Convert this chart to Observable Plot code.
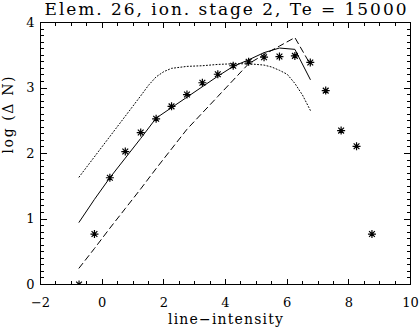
<!DOCTYPE html>
<html>
<head>
<meta charset="utf-8">
<script src="https://cdn.jsdelivr.net/npm/d3@7"></script>
<script src="https://cdn.jsdelivr.net/npm/@observablehq/plot@0.6"></script>
<style>
  html, body { margin: 0; padding: 0; background: #fff; }
  #chart svg { display: block; }
</style>
</head>
<body>
<div id="chart"></div>
<script>
// ---- data ----
const title = "Elem. 26, ion. stage 2, Te = 15000";
const xLabel = "line\u2212intensity";
const yLabel = "log (\u0394 N)";

const xTickLabels = [-2, 0, 2, 4, 6, 8, 10];
const yTickLabels = [0, 1, 2, 3, 4];

// asterisk points
const ptX = [-0.75, -0.25, 0.25, 0.75, 1.25, 1.75, 2.25, 2.75, 3.25, 3.75, 4.25, 4.75, 5.25, 5.75, 6.25, 6.75, 7.25, 7.75, 8.25, 8.75];
const ptY = [0.00, 0.77, 1.63, 2.03, 2.32, 2.53, 2.72, 2.90, 3.08, 3.21, 3.34, 3.40, 3.47, 3.48, 3.49, 3.39, 2.96, 2.35, 2.11, 0.77];

// solid line
const solidX = [-0.75, -0.25, 0.25, 0.75, 1.25, 1.75, 2.25, 2.75, 3.25, 3.75, 4.25, 4.75, 5.25, 5.75, 6.25, 6.75];
const solidY = [0.95, 1.30, 1.63, 1.93, 2.23, 2.54, 2.70, 2.86, 3.02, 3.18, 3.33, 3.43, 3.54, 3.61, 3.59, 3.13];

// dashed line
const dashX = [-0.75, -0.25, 0.25, 0.75, 1.25, 1.75, 2.25, 2.75, 3.25, 3.75, 4.25, 4.75, 5.25, 5.75, 6.25, 6.75];
const dashY = [0.25, 0.55, 0.86, 1.16, 1.46, 1.77, 2.07, 2.37, 2.62, 2.87, 3.12, 3.37, 3.51, 3.64, 3.77, 3.36];

// dotted line
const dotX = [-0.75, -0.25, 0.25, 0.75, 1.25, 1.5, 1.75, 2.0, 2.25, 2.75, 3.25, 3.75, 4.25, 4.75, 5.25, 5.5, 5.75, 6.0, 6.25, 6.5, 6.75];
const dotY = [1.64, 1.95, 2.26, 2.57, 2.88, 3.04, 3.17, 3.25, 3.30, 3.33, 3.34, 3.36, 3.37, 3.37, 3.35, 3.32, 3.27, 3.21, 3.07, 2.89, 2.66];

// ---- build tables ----
const pts = ptX.map((x, i) => ({x, y: ptY[i]}));
const solid = solidX.map((x, i) => ({x, y: solidY[i]}));
const dashed = dashX.map((x, i) => ({x, y: dashY[i]}));
const dotted = dotX.map((x, i) => ({x, y: dotY[i]}));

const xDom = [-2, 10], yDom = [0, 4];
const xMinor = d3.range(0, 25).map(i => -2 + i * 0.5).filter(v => !xTickLabels.includes(v));
const yMinor = d3.range(0, 41).map(i => i / 10).filter(v => !yTickLabels.includes(v));

// 8-armed asterisk symbol
const star = {
  draw(ctx, size) {
    const r = Math.sqrt(size / Math.PI);
    const d = r * 0.72;
    ctx.moveTo(-r, 0); ctx.lineTo(r, 0);
    ctx.moveTo(0, -r); ctx.lineTo(0, r);
    ctx.moveTo(-d, -d); ctx.lineTo(d, d);
    ctx.moveTo(-d, d); ctx.lineTo(d, -d);
  }
};

const fmt = d => d < 0 ? "\u2212" + Math.abs(d) : String(d);
const blank = () => "";
const font = "'DejaVu Serif', serif";
const tk = {stroke: "#000", strokeWidth: 1, tickFormat: blank, label: null, shapeRendering: "crispEdges"};

const chart = Plot.plot({
  width: 419, height: 330,
  marginLeft: 40, marginRight: 9, marginTop: 22, marginBottom: 46,
  style: {fontFamily: font, fontSize: "13px", background: "#fff", color: "#000"},
  x: {domain: xDom},
  y: {domain: yDom},
  marks: [
    // inward ticks on all four sides
    Plot.axisX({...tk, anchor: "bottom", ticks: xTickLabels, tickSize: -5.2}),
    Plot.axisX({...tk, anchor: "bottom", ticks: xMinor, tickSize: -2.6}),
    Plot.axisX({...tk, anchor: "top", ticks: xTickLabels, tickSize: -5.2}),
    Plot.axisX({...tk, anchor: "top", ticks: xMinor, tickSize: -2.6}),
    Plot.axisY({...tk, anchor: "left", ticks: yTickLabels, tickSize: -7.4}),
    Plot.axisY({...tk, anchor: "left", ticks: yMinor, tickSize: -3.7}),
    Plot.axisY({...tk, anchor: "right", ticks: yTickLabels, tickSize: -7.4}),
    Plot.axisY({...tk, anchor: "right", ticks: yMinor, tickSize: -3.7}),
    Plot.frame({stroke: "#000", fill: "none", shapeRendering: "crispEdges"}),
    // tick labels
    Plot.axisX({anchor: "bottom", ticks: xTickLabels, tickSize: 0, tickPadding: 13, tickFormat: fmt, fontSize: 13, fontFamily: font, label: null}),
    Plot.axisY({anchor: "left", ticks: yTickLabels, tickSize: 0, tickPadding: 6, tickFormat: fmt, fontSize: 13, fontFamily: font, label: null}),
    // series
    Plot.line(dotted, {x: "x", y: "y", stroke: "#000", strokeWidth: 1, strokeDasharray: "1,2.2"}),
    Plot.line(dashed, {x: "x", y: "y", stroke: "#000", strokeWidth: 1, strokeDasharray: "6,4"}),
    Plot.line(solid, {x: "x", y: "y", stroke: "#000", strokeWidth: 1}),
    Plot.dot(pts, {x: "x", y: "y", r: 4, symbol: star, fill: "none", stroke: "#000", strokeWidth: 1.2, clip: true}),
    // titles
    Plot.text([title], {text: d => d, frameAnchor: "top", lineAnchor: "bottom", dy: -7.5, fontSize: 17, fontFamily: font, fill: "#000"}),
    Plot.text([xLabel], {text: d => d, frameAnchor: "bottom", lineAnchor: "bottom", dy: 39, fontSize: 14, fontFamily: font, fill: "#000"}),
    Plot.text([yLabel], {text: d => d, frameAnchor: "left", rotate: -90, lineAnchor: "bottom", dx: -28, fontSize: 14, fontFamily: font, fill: "#000"})
  ]
});
document.getElementById("chart").appendChild(chart);

// widen the (wide, IDL-like) lettering of the titles
const spread = new Map([[title, 362], [xLabel, 115], [yLabel, 77]]);
for (const t of chart.querySelectorAll("text")) {
  const w = spread.get(t.textContent);
  if (w) { t.setAttribute("textLength", w); t.setAttribute("lengthAdjust", "spacing"); }
}
</script>
</body>
</html>
